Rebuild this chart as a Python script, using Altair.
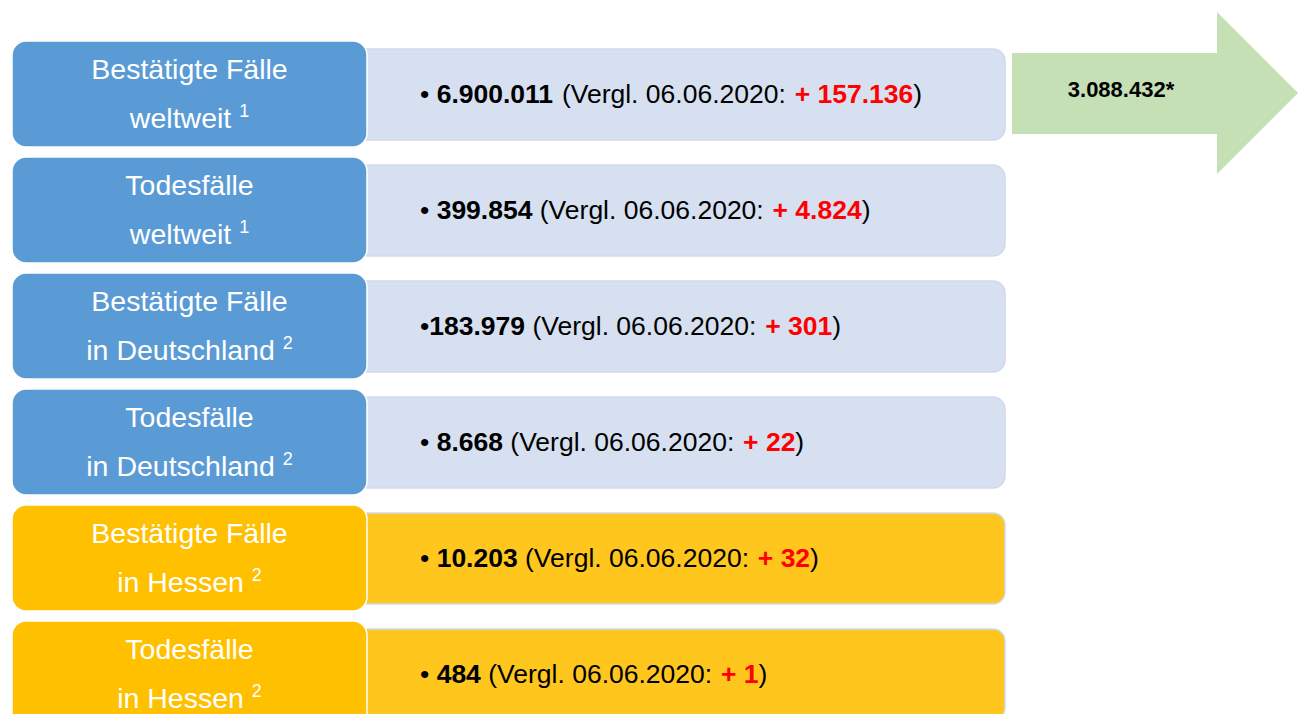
import altair as alt
import pandas as pd

# ---------------- data ----------------
line1 = ["Bestätigte Fälle", "Todesfälle", "Bestätigte Fälle", "Todesfälle",
         "Bestätigte Fälle", "Todesfälle"]
line2 = ["weltweit", "weltweit", "in Deutschland", "in Deutschland",
         "in Hessen", "in Hessen"]
footnote = ["1", "1", "2", "2", "2", "2"]
values = ["6.900.011", "399.854", "183.979", "8.668", "10.203", "484"]
deltas = ["157.136", "4.824", "301", "22", "32", "1"]
bullet_gap = [" ", " ", "", " ", " ", " "]
region = ["welt", "welt", "de", "de", "hessen", "hessen"]
compare_date = "06.06.2020"
arrow_value = "3.088.432*"

# ---------------- layout & style ----------------
X0, X1 = 8, 1298
Y0, Y1 = 8, 714
ROW_TOP0, ROW_PITCH = 41, 116
LEFT_X0, LEFT_X1, LEFT_H = 12, 367, 106
RIGHT_X0, RIGHT_X1, RIGHT_T, RIGHT_B = 340, 1005, 8, 99
TEXT_X = 420
FONT = "Liberation Sans"
FS_RIGHT = 26.5
FS_LEFT = 28.5
FS_SUP = 18
left_fill = {"welt": "#5B9BD5", "de": "#5B9BD5", "hessen": "#FFC000"}
right_fill = {"welt": "#D6E0F0", "de": "#D6E0F0", "hessen": "#FFC61E"}
ARROW_COLOR = "#C5E0B4"

# Arial / Liberation Sans advance widths (1/1000 em)
W_REG = {" ": 278, "(": 333, ")": 333, ".": 278, ":": 278, "+": 584, "•": 350,
         "V": 667, "e": 556, "r": 333, "g": 556, "l": 222, "w": 722, "t": 278,
         "i": 222, "n": 556, "D": 722, "u": 556, "s": 500, "c": 500, "h": 556,
         "a": 556, "H": 722}
W_BOLD = {" ": 278, "(": 333, ")": 333, ".": 278, ":": 333, "+": 584, "•": 350,
          "V": 667, "e": 556, "r": 389, "g": 611, "l": 278}


def text_width(s, bold, size):
    tab = W_BOLD if bold else W_REG
    return sum((556 if c.isdigit() else tab.get(c, 556)) for c in s) / 1000 * size


# ---------------- tables ----------------
boxes, labels, sups, segs = [], [], [], []
for i in range(len(values)):
    top = ROW_TOP0 + i * ROW_PITCH
    boxes.append(dict(layer="right", x=RIGHT_X0, x2=RIGHT_X1, y=top + RIGHT_T,
                      y2=top + RIGHT_B, fill=right_fill[region[i]]))
    boxes.append(dict(layer="left", x=LEFT_X0, x2=LEFT_X1, y=top, y2=top + LEFT_H,
                      fill=left_fill[region[i]]))
    cx = (LEFT_X0 + LEFT_X1) / 2
    labels.append(dict(x=cx, y=top + 38, t=line1[i], al="c"))
    w_base = text_width(line2[i] + " ", False, FS_LEFT)
    w_sup = text_width(footnote[i], False, FS_SUP)
    start = cx - (w_base + w_sup) / 2
    labels.append(dict(x=start, y=top + 87, t=line2[i], al="l"))
    sups.append(dict(x=start + w_base, y=top + 76, t=footnote[i]))

    parts = [("•" + bullet_gap[i], False, "black"),
             (values[i], True, "black"),
             (" (Vergl. " + compare_date + ": ", False, "black"),
             ("+ " + deltas[i], True, "#FF0000"),
             (")", False, "black")]
    cur = TEXT_X
    for s, bold, col in parts:
        lead = len(s) - len(s.lstrip(" "))
        xs = cur + text_width(s[:lead], bold, FS_RIGHT)
        segs.append(dict(x=xs, y=top + 62, t=s.strip(" "), bold=bold, col=col))
        cur += text_width(s, bold, FS_RIGHT)

box_df = pd.DataFrame(boxes)
lab_df = pd.DataFrame(labels)
sup_df = pd.DataFrame(sups)
seg_df = pd.DataFrame(segs)

arrow_body = pd.DataFrame([dict(x=1012, x2=1217, y=53, y2=134)])
arrow_head = pd.DataFrame([dict(x=1217, y=12, y2=174), dict(x=1298, y=93, y2=93)])
arrow_txt = pd.DataFrame([dict(x=1121, y=97, t=arrow_value)])

xs = alt.Scale(domain=[X0, X1], nice=False, zero=False)
ys = alt.Scale(domain=[Y0, Y1], nice=False, zero=False, reverse=True)


def X(f="x"):
    return alt.X(f"{f}:Q", scale=xs, axis=None)


def Y(f="y"):
    return alt.Y(f"{f}:Q", scale=ys, axis=None)


right_boxes = alt.Chart(box_df).transform_filter("datum.layer == 'right'").mark_rect(
    cornerRadius=12, stroke="#CFDAEC", strokeWidth=1.5, clip=True
).encode(x=X(), x2="x2:Q", y=Y(), y2="y2:Q", color=alt.Color("fill:N", scale=None))

left_boxes = alt.Chart(box_df).transform_filter("datum.layer == 'left'").mark_rect(
    cornerRadius=14, stroke="white", strokeWidth=1.5, clip=True
).encode(x=X(), x2="x2:Q", y=Y(), y2="y2:Q", color=alt.Color("fill:N", scale=None))

left_text_c = alt.Chart(lab_df).transform_filter("datum.al == 'c'").mark_text(
    font=FONT, fontSize=FS_LEFT, color="white", align="center", baseline="alphabetic"
).encode(x=X(), y=Y(), text="t:N")

left_text_l = alt.Chart(lab_df).transform_filter("datum.al == 'l'").mark_text(
    font=FONT, fontSize=FS_LEFT, color="white", align="left", baseline="alphabetic"
).encode(x=X(), y=Y(), text="t:N")

sup_text = alt.Chart(sup_df).mark_text(
    font=FONT, fontSize=FS_SUP, color="white", align="left", baseline="alphabetic"
).encode(x=X(), y=Y(), text="t:N")

seg_norm = alt.Chart(seg_df).transform_filter("!datum.bold").mark_text(
    font=FONT, fontSize=FS_RIGHT, align="left", baseline="alphabetic"
).encode(x=X(), y=Y(), text="t:N", color=alt.Color("col:N", scale=None))

seg_bold = alt.Chart(seg_df).transform_filter("datum.bold").mark_text(
    font=FONT, fontSize=FS_RIGHT, fontWeight="bold", align="left", baseline="alphabetic"
).encode(x=X(), y=Y(), text="t:N", color=alt.Color("col:N", scale=None))

body = alt.Chart(arrow_body).mark_rect(color=ARROW_COLOR).encode(
    x=X(), x2="x2:Q", y=Y(), y2="y2:Q")
head = alt.Chart(arrow_head).mark_area(color=ARROW_COLOR, opacity=1).encode(
    x=X(), y=Y(), y2="y2:Q")
arrow_label = alt.Chart(arrow_txt).mark_text(
    font=FONT, fontSize=22, fontWeight="bold", color="black", align="center",
    baseline="alphabetic"
).encode(x=X(), y=Y(), text="t:N")

chart = alt.layer(
    right_boxes, left_boxes, left_text_c, left_text_l, sup_text,
    seg_norm, seg_bold, body, head, arrow_label
).properties(
    width=X1 - X0, height=Y1 - Y0, padding=0,
    autosize=alt.AutoSizeParams(type="none"), background="white"
).configure_view(stroke=None)

chart.save("out.html", embed_options={"renderer": "svg", "actions": False})
